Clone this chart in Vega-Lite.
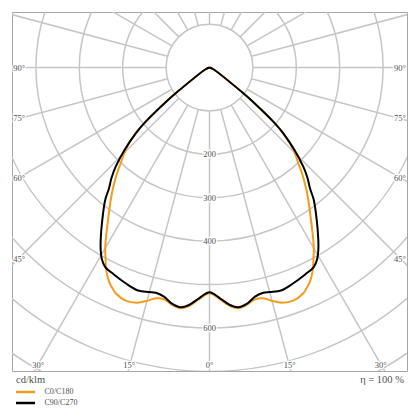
{
  "$schema": "https://vega.github.io/schema/vega-lite/v6.json",
  "width": 395,
  "height": 359,
  "autosize": {"type": "none"},
  "padding": {"left": 12, "top": 12, "right": 13, "bottom": 49},
  "background": "white",
  "config": {"view": {"stroke": "#a6a6a6", "strokeWidth": 1}},
  "datasets": {
    "rings": [{"r": 100}, {"r": 200}, {"r": 300}, {"r": 400}, {"r": 500}, {"r": 600}, {"r": 700}, {"r": 800}],
    "spokes": [{"a": 0}, {"a": 15}, {"a": 30}, {"a": 45}, {"a": 60}, {"a": 75}, {"a": 90}, {"a": 105}, {"a": 120}, {"a": 135}, {"a": 150}, {"a": 165}, {"a": 180}, {"a": 195}, {"a": 210}, {"a": 225}, {"a": 240}, {"a": 255}, {"a": 270}, {"a": 285}, {"a": 300}, {"a": 315}, {"a": 330}, {"a": 345}],
    "leftLabels": [{"x": -452, "y": 0, "t": "90°"}, {"x": -452, "y": -116.8, "t": "75°"}, {"x": -452, "y": -254.3, "t": "60°"}, {"x": -452, "y": -441, "t": "45°"}],
    "rightLabels": [{"x": 452.7, "y": 0, "t": "90°"}, {"x": 452.7, "y": -116.8, "t": "75°"}, {"x": 452.7, "y": -254.3, "t": "60°"}, {"x": 452.7, "y": -441, "t": "45°"}],
    "centerLabels": [{"x": -394.5, "y": -685, "t": "30°"}, {"x": -185, "y": -685, "t": "15°"}, {"x": 0, "y": -685, "t": "0°"}, {"x": 185, "y": -685, "t": "15°"}, {"x": 394.5, "y": -685, "t": "30°"}, {"x": 0, "y": -200, "t": "200"}, {"x": 0, "y": -300, "t": "300"}, {"x": 0, "y": -400, "t": "400"}, {"x": 0, "y": -600, "t": "600"}],
    "noteLeft": [{"x": -445.8, "y": -726.6, "t": "cd/klm"}],
    "noteRight": [{"x": 448.1, "y": -726.6, "t": "η = 100 %"}],
    "curves": [
      {"s": "C0/C180", "i": 0, "x": 0, "y": 0},
      {"s": "C0/C180", "i": 1, "x": 8.8, "y": -3.9},
      {"s": "C0/C180", "i": 2, "x": 77.9, "y": -59.2},
      {"s": "C0/C180", "i": 3, "x": 96.8, "y": -75.8},
      {"s": "C0/C180", "i": 4, "x": 147.0, "y": -124.6},
      {"s": "C0/C180", "i": 5, "x": 170.0, "y": -151.4},
      {"s": "C0/C180", "i": 6, "x": 193.5, "y": -189.8},
      {"s": "C0/C180", "i": 7, "x": 204.6, "y": -220.5},
      {"s": "C0/C180", "i": 8, "x": 214.3, "y": -247.4},
      {"s": "C0/C180", "i": 9, "x": 222.3, "y": -277.4},
      {"s": "C0/C180", "i": 10, "x": 227.6, "y": -305.0},
      {"s": "C0/C180", "i": 11, "x": 233.8, "y": -351.1},
      {"s": "C0/C180", "i": 12, "x": 239.1, "y": -397.2},
      {"s": "C0/C180", "i": 13, "x": 240.3, "y": -420.2},
      {"s": "C0/C180", "i": 14, "x": 239.6, "y": -438.6},
      {"s": "C0/C180", "i": 15, "x": 238.0, "y": -466.2},
      {"s": "C0/C180", "i": 16, "x": 231.5, "y": -493.2},
      {"s": "C0/C180", "i": 17, "x": 223.9, "y": -507.8},
      {"s": "C0/C180", "i": 18, "x": 216.1, "y": -520.0},
      {"s": "C0/C180", "i": 19, "x": 193.1, "y": -537.0},
      {"s": "C0/C180", "i": 20, "x": 166.3, "y": -541.6},
      {"s": "C0/C180", "i": 21, "x": 143.3, "y": -537.0},
      {"s": "C0/C180", "i": 22, "x": 123.9, "y": -531.5},
      {"s": "C0/C180", "i": 23, "x": 104.8, "y": -533.8},
      {"s": "C0/C180", "i": 24, "x": 85.7, "y": -546.9},
      {"s": "C0/C180", "i": 25, "x": 66.3, "y": -554.5},
      {"s": "C0/C180", "i": 26, "x": 47.2, "y": -549.2},
      {"s": "C0/C180", "i": 27, "x": 24.2, "y": -533.8},
      {"s": "C0/C180", "i": 28, "x": 0, "y": -520.0},
      {"s": "C0/C180", "i": 29, "x": -24.2, "y": -533.8},
      {"s": "C0/C180", "i": 30, "x": -47.2, "y": -549.2},
      {"s": "C0/C180", "i": 31, "x": -66.3, "y": -554.5},
      {"s": "C0/C180", "i": 32, "x": -85.7, "y": -546.9},
      {"s": "C0/C180", "i": 33, "x": -104.8, "y": -533.8},
      {"s": "C0/C180", "i": 34, "x": -123.9, "y": -531.5},
      {"s": "C0/C180", "i": 35, "x": -143.3, "y": -537.0},
      {"s": "C0/C180", "i": 36, "x": -166.3, "y": -541.6},
      {"s": "C0/C180", "i": 37, "x": -193.1, "y": -537.0},
      {"s": "C0/C180", "i": 38, "x": -216.1, "y": -520.0},
      {"s": "C0/C180", "i": 39, "x": -223.9, "y": -507.8},
      {"s": "C0/C180", "i": 40, "x": -231.5, "y": -493.2},
      {"s": "C0/C180", "i": 41, "x": -238.0, "y": -466.2},
      {"s": "C0/C180", "i": 42, "x": -239.6, "y": -438.6},
      {"s": "C0/C180", "i": 43, "x": -240.3, "y": -420.2},
      {"s": "C0/C180", "i": 44, "x": -239.1, "y": -397.2},
      {"s": "C0/C180", "i": 45, "x": -233.8, "y": -351.1},
      {"s": "C0/C180", "i": 46, "x": -227.6, "y": -305.0},
      {"s": "C0/C180", "i": 47, "x": -222.3, "y": -277.4},
      {"s": "C0/C180", "i": 48, "x": -214.3, "y": -247.4},
      {"s": "C0/C180", "i": 49, "x": -204.6, "y": -220.5},
      {"s": "C0/C180", "i": 50, "x": -193.5, "y": -189.8},
      {"s": "C0/C180", "i": 51, "x": -170.0, "y": -151.4},
      {"s": "C0/C180", "i": 52, "x": -147.0, "y": -124.6},
      {"s": "C0/C180", "i": 53, "x": -96.8, "y": -75.8},
      {"s": "C0/C180", "i": 54, "x": -77.9, "y": -59.2},
      {"s": "C0/C180", "i": 55, "x": -8.8, "y": -3.9},
      {"s": "C0/C180", "i": 56, "x": 0, "y": 0},
      {"s": "C90/C270", "i": 0, "x": 0, "y": 0},
      {"s": "C90/C270", "i": 1, "x": 8.8, "y": -3.9},
      {"s": "C90/C270", "i": 2, "x": 77.9, "y": -59.2},
      {"s": "C90/C270", "i": 3, "x": 96.8, "y": -75.8},
      {"s": "C90/C270", "i": 4, "x": 147.0, "y": -124.6},
      {"s": "C90/C270", "i": 5, "x": 170.0, "y": -151.4},
      {"s": "C90/C270", "i": 6, "x": 195.8, "y": -189.8},
      {"s": "C90/C270", "i": 7, "x": 216.1, "y": -228.3},
      {"s": "C90/C270", "i": 8, "x": 225.8, "y": -254.3},
      {"s": "C90/C270", "i": 9, "x": 231.5, "y": -278.1},
      {"s": "C90/C270", "i": 10, "x": 240.3, "y": -305.0},
      {"s": "C90/C270", "i": 11, "x": 247.0, "y": -351.1},
      {"s": "C90/C270", "i": 12, "x": 250.7, "y": -397.2},
      {"s": "C90/C270", "i": 13, "x": 250.7, "y": -420.2},
      {"s": "C90/C270", "i": 14, "x": 248.1, "y": -440.9},
      {"s": "C90/C270", "i": 15, "x": 240.5, "y": -459.0},
      {"s": "C90/C270", "i": 16, "x": 221.0, "y": -476.0},
      {"s": "C90/C270", "i": 17, "x": 192.4, "y": -497.4},
      {"s": "C90/C270", "i": 18, "x": 164.7, "y": -513.5},
      {"s": "C90/C270", "i": 19, "x": 139.4, "y": -517.0},
      {"s": "C90/C270", "i": 20, "x": 123.9, "y": -518.6},
      {"s": "C90/C270", "i": 21, "x": 104.8, "y": -527.8},
      {"s": "C90/C270", "i": 22, "x": 85.7, "y": -544.6},
      {"s": "C90/C270", "i": 23, "x": 66.3, "y": -552.2},
      {"s": "C90/C270", "i": 24, "x": 47.2, "y": -546.9},
      {"s": "C90/C270", "i": 25, "x": 24.2, "y": -531.5},
      {"s": "C90/C270", "i": 26, "x": 0, "y": -517.7},
      {"s": "C90/C270", "i": 27, "x": -24.2, "y": -531.5},
      {"s": "C90/C270", "i": 28, "x": -47.2, "y": -546.9},
      {"s": "C90/C270", "i": 29, "x": -66.3, "y": -552.2},
      {"s": "C90/C270", "i": 30, "x": -85.7, "y": -544.6},
      {"s": "C90/C270", "i": 31, "x": -104.8, "y": -527.8},
      {"s": "C90/C270", "i": 32, "x": -123.9, "y": -518.6},
      {"s": "C90/C270", "i": 33, "x": -139.4, "y": -517.0},
      {"s": "C90/C270", "i": 34, "x": -164.7, "y": -513.5},
      {"s": "C90/C270", "i": 35, "x": -192.4, "y": -497.4},
      {"s": "C90/C270", "i": 36, "x": -221.0, "y": -476.0},
      {"s": "C90/C270", "i": 37, "x": -240.5, "y": -459.0},
      {"s": "C90/C270", "i": 38, "x": -248.1, "y": -440.9},
      {"s": "C90/C270", "i": 39, "x": -250.7, "y": -420.2},
      {"s": "C90/C270", "i": 40, "x": -250.7, "y": -397.2},
      {"s": "C90/C270", "i": 41, "x": -247.0, "y": -351.1},
      {"s": "C90/C270", "i": 42, "x": -240.3, "y": -305.0},
      {"s": "C90/C270", "i": 43, "x": -231.5, "y": -278.1},
      {"s": "C90/C270", "i": 44, "x": -225.8, "y": -254.3},
      {"s": "C90/C270", "i": 45, "x": -216.1, "y": -228.3},
      {"s": "C90/C270", "i": 46, "x": -195.8, "y": -189.8},
      {"s": "C90/C270", "i": 47, "x": -170.0, "y": -151.4},
      {"s": "C90/C270", "i": 48, "x": -147.0, "y": -124.6},
      {"s": "C90/C270", "i": 49, "x": -96.8, "y": -75.8},
      {"s": "C90/C270", "i": 50, "x": -77.9, "y": -59.2},
      {"s": "C90/C270", "i": 51, "x": -8.8, "y": -3.9},
      {"s": "C90/C270", "i": 52, "x": 0, "y": 0}
    ]
  },
  "layer": [
    {
      "data": {"name": "rings"},
      "mark": {"type": "arc", "filled": false, "stroke": "#c6c6c6", "strokeWidth": 1.5, "theta": 0, "theta2": 6.2832, "clip": true},
      "encoding": {
        "x": {"datum": 0, "type": "quantitative", "scale": {"domain": [-455, 455], "nice": false, "zero": false}, "axis": null},
        "y": {"datum": 0, "type": "quantitative", "scale": {"domain": [-699, 128], "nice": false, "zero": false}, "axis": null},
        "radius": {"field": "r", "type": "quantitative", "stack": null, "scale": {"type": "linear", "domain": [0, 1000], "range": [0, 434.07], "zero": true}}
      }
    },
    {
      "data": {"name": "spokes"},
      "mark": {"type": "arc", "filled": false, "stroke": "#c6c6c6", "strokeWidth": 1.5, "clip": true},
      "encoding": {
        "x": {"datum": 0, "type": "quantitative"},
        "y": {"datum": 0, "type": "quantitative"},
        "theta": {"field": "a", "type": "quantitative", "stack": null, "scale": {"type": "linear", "domain": [0, 360], "range": [0, 6.283185], "zero": true}},
        "theta2": {"field": "a"},
        "radius": {"datum": 1000, "type": "quantitative", "stack": null},
        "radius2": {"datum": 100}
      }
    },
    {
      "data": {"name": "leftLabels"},
      "encoding": {
        "x": {"field": "x", "type": "quantitative"},
        "y": {"field": "y", "type": "quantitative"},
        "text": {"field": "t"}
      },
      "layer": [
        {"mark": {"type": "text", "font": "Liberation Serif", "fontSize": 8.5, "align": "left", "baseline": "middle", "fill": "white", "stroke": "white", "strokeWidth": 2.5}},
        {"mark": {"type": "text", "font": "Liberation Serif", "fontSize": 8.5, "align": "left", "baseline": "middle", "fill": "#505050"}}
      ]
    },
    {
      "data": {"name": "rightLabels"},
      "encoding": {
        "x": {"field": "x", "type": "quantitative"},
        "y": {"field": "y", "type": "quantitative"},
        "text": {"field": "t"}
      },
      "layer": [
        {"mark": {"type": "text", "font": "Liberation Serif", "fontSize": 8.5, "align": "right", "baseline": "middle", "fill": "white", "stroke": "white", "strokeWidth": 2.5}},
        {"mark": {"type": "text", "font": "Liberation Serif", "fontSize": 8.5, "align": "right", "baseline": "middle", "fill": "#505050"}}
      ]
    },
    {
      "data": {"name": "centerLabels"},
      "encoding": {
        "x": {"field": "x", "type": "quantitative"},
        "y": {"field": "y", "type": "quantitative"},
        "text": {"field": "t"}
      },
      "layer": [
        {"mark": {"type": "text", "font": "Liberation Serif", "fontSize": 8.5, "align": "center", "baseline": "middle", "fill": "white", "stroke": "white", "strokeWidth": 2.5}},
        {"mark": {"type": "text", "font": "Liberation Serif", "fontSize": 8.5, "align": "center", "baseline": "middle", "fill": "#505050"}}
      ]
    },
    {
      "data": {"name": "noteLeft"},
      "mark": {"type": "text", "font": "Liberation Serif", "fontSize": 10.5, "fontWeight": "normal", "align": "left", "baseline": "alphabetic", "fill": "#505050"},
      "encoding": {"x": {"field": "x", "type": "quantitative"}, "y": {"field": "y", "type": "quantitative"}, "text": {"field": "t"}}
    },
    {
      "data": {"name": "noteRight"},
      "mark": {"type": "text", "font": "Liberation Serif", "fontSize": 10.5, "fontWeight": "normal", "align": "right", "baseline": "alphabetic", "fill": "#505050"},
      "encoding": {"x": {"field": "x", "type": "quantitative"}, "y": {"field": "y", "type": "quantitative"}, "text": {"field": "t"}}
    },
    {
      "data": {"name": "curves"},
      "mark": {"type": "line", "strokeWidth": 2, "interpolate": "catmull-rom", "clip": true},
      "encoding": {
        "x": {"field": "x", "type": "quantitative"},
        "y": {"field": "y", "type": "quantitative"},
        "order": {"field": "i", "type": "quantitative"},
        "color": {
          "field": "s", "type": "nominal",
          "scale": {"domain": ["C0/C180", "C90/C270"], "range": ["#f39c1b", "#000000"]},
          "legend": {
            "orient": "none", "legendX": 4, "legendY": 374, "title": null, "padding": 0,
            "symbolType": "M-2,0H2", "symbolSize": 90, "symbolStrokeWidth": 2.5,
            "symbolOffset": 3.5, "labelOffset": 13, "rowPadding": -2,
            "labelFont": "Liberation Serif", "labelFontSize": 8, "labelColor": "#505050"
          }
        }
      }
    }
  ]
}
